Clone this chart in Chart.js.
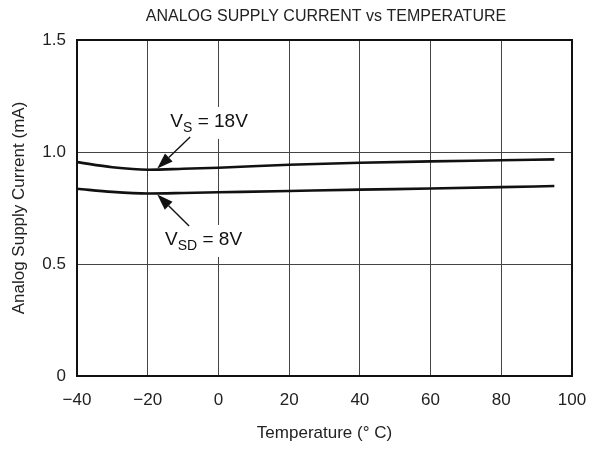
<!DOCTYPE html>
<html>
<head>
<meta charset="utf-8">
<script src="https://cdn.jsdelivr.net/npm/chart.js@4/dist/chart.umd.min.js"></script>
<style>
  html, body { margin: 0; padding: 0; background: #fff; }
  #wrap { width: 596px; height: 449px; }
</style>
</head>
<body>
<div id="wrap"><canvas id="chart" width="596" height="449"></canvas></div>
<script>
// ── Datos ──────────────────────────────────────────────────────────────
const temps    = [-40, -30, -20, -10, 0, 20, 40, 60, 80, 95];
const vs18     = [0.955, 0.932, 0.921, 0.925, 0.930, 0.943, 0.952, 0.958, 0.963, 0.967];
const vsd8     = [0.836, 0.822, 0.815, 0.817, 0.820, 0.826, 0.832, 0.837, 0.843, 0.848];
const xTicks   = [-40, -20, 0, 20, 40, 60, 80, 100];
const yTicks   = [0, 0.5, 1.0, 1.5];

const FONT = 'Liberation Sans, Arial, Helvetica, sans-serif';

// etiquetas con flecha (en unidades de datos)
const notes = [
  { main: 'V', sub: 'S',  rest: ' = 18V', x: -13.6, y: 1.112, from: [-8.0, 1.067], to: [-17.3, 0.926] },
  { main: 'V', sub: 'SD', rest: ' = 8V',  x: -15.1, y: 0.585, from: [-8.3, 0.670], to: [-17.3, 0.810] },
];

// ── Plugins ────────────────────────────────────────────────────────────
const framePlugin = {
  id: 'frame',
  afterDraw(chart) {
    const { ctx, chartArea: a } = chart;
    ctx.save();
    ctx.strokeStyle = '#111';
    ctx.lineWidth = 2;
    ctx.strokeRect(a.left, a.top, a.right - a.left, a.bottom - a.top);
    // título
    ctx.fillStyle = '#222';
    ctx.font = `16px ${FONT}`;
    ctx.textAlign = 'center';
    ctx.textBaseline = 'middle';
    ctx.fillText('ANALOG SUPPLY CURRENT vs TEMPERATURE', (a.left + a.right) / 2 + 1.5, 17);
    ctx.restore();
  }
};

function arrow(ctx, x1, y1, x2, y2) {
  const ang = Math.atan2(y2 - y1, x2 - x1);
  const len = 16, half = 5.5;
  const bx = x2 - len * Math.cos(ang), by = y2 - len * Math.sin(ang);
  ctx.beginPath();
  ctx.moveTo(x1, y1);
  ctx.lineTo(bx, by);
  ctx.lineWidth = 1.4;
  ctx.stroke();
  ctx.beginPath();
  ctx.moveTo(x2, y2);
  ctx.lineTo(bx + half * Math.sin(ang), by - half * Math.cos(ang));
  ctx.lineTo(bx - half * Math.sin(ang), by + half * Math.cos(ang));
  ctx.closePath();
  ctx.fill();
}

const notesPlugin = {
  id: 'notes',
  afterDatasetsDraw(chart) {
    const { ctx, scales: { x, y } } = chart;
    ctx.save();
    ctx.fillStyle = '#111';
    ctx.strokeStyle = '#111';
    notes.forEach(n => {
      const px = x.getPixelForValue(n.x), py = y.getPixelForValue(n.y);
      ctx.font = `19px ${FONT}`;
      const wMain = ctx.measureText(n.main).width;
      const wRest = ctx.measureText(n.rest).width;
      ctx.font = `14px ${FONT}`;
      const wSub = ctx.measureText(n.sub).width;
      const w = wMain + wSub + wRest;
      // fondo blanco para tapar la rejilla
      ctx.fillStyle = '#fff';
      ctx.fillRect(px - 3, py - 20, w + 6, 32);
      ctx.fillStyle = '#111';
      ctx.textAlign = 'left';
      ctx.textBaseline = 'alphabetic';
      ctx.font = `19px ${FONT}`;
      ctx.fillText(n.main, px, py);
      ctx.font = `14px ${FONT}`;
      ctx.fillText(n.sub, px + wMain, py + 5);
      ctx.font = `19px ${FONT}`;
      ctx.fillText(n.rest, px + wMain + wSub, py);
      arrow(ctx,
        x.getPixelForValue(n.from[0]), y.getPixelForValue(n.from[1]),
        x.getPixelForValue(n.to[0]),   y.getPixelForValue(n.to[1]));
    });
    ctx.restore();
  }
};

// ── Gráfica ────────────────────────────────────────────────────────────
const mk = arr => temps.map((t, i) => ({ x: t, y: arr[i] }));

new Chart(document.getElementById('chart'), {
  type: 'line',
  data: {
    datasets: [
      { label: 'VS = 18V',  data: mk(vs18), borderColor: '#111', borderWidth: 2.6, pointRadius: 0, cubicInterpolationMode: 'monotone', fill: false },
      { label: 'VSD = 8V',  data: mk(vsd8), borderColor: '#111', borderWidth: 2.6, pointRadius: 0, cubicInterpolationMode: 'monotone', fill: false },
    ],
  },
  options: {
    responsive: false,
    animation: false,
    layout: { padding: { top: 40, right: 0, left: 0, bottom: 0 } },
    plugins: { legend: { display: false }, tooltip: { enabled: false }, title: { display: false } },
    scales: {
      x: {
        type: 'linear', min: -40, max: 100,
        afterBuildTicks: s => { s.ticks = xTicks.map(v => ({ value: v })); },
        afterFit: s => { s.height = 73; s.paddingLeft = 0; s.paddingRight = 24; },
        grid: { color: '#444', lineWidth: 1, drawTicks: false },
        border: { display: false },
        ticks: {
          padding: 14, color: '#222', font: { family: FONT, size: 17 },
          callback: v => v < 0 ? '\u2212' + Math.abs(v) : String(v),
        },
        title: { display: true, text: 'Temperature (\u00b0 C)', color: '#222', font: { family: FONT, size: 17 }, padding: { top: 0, bottom: 5 } },
      },
      y: {
        min: 0, max: 1.5,
        afterBuildTicks: s => { s.ticks = yTicks.map(v => ({ value: v })); },
        afterFit: s => { s.width = 77; },
        grid: { color: '#444', lineWidth: 1, drawTicks: false },
        border: { display: false },
        ticks: {
          padding: 11, color: '#222', font: { family: FONT, size: 17 },
          callback: v => v === 0 ? '0' : v.toFixed(1),
        },
        title: { display: true, text: 'Analog Supply Current (mA)', color: '#222', font: { family: FONT, size: 17 }, padding: { top: 9, bottom: 0 } },
      },
    },
  },
  plugins: [framePlugin, notesPlugin],
});
</script>
</body>
</html>
